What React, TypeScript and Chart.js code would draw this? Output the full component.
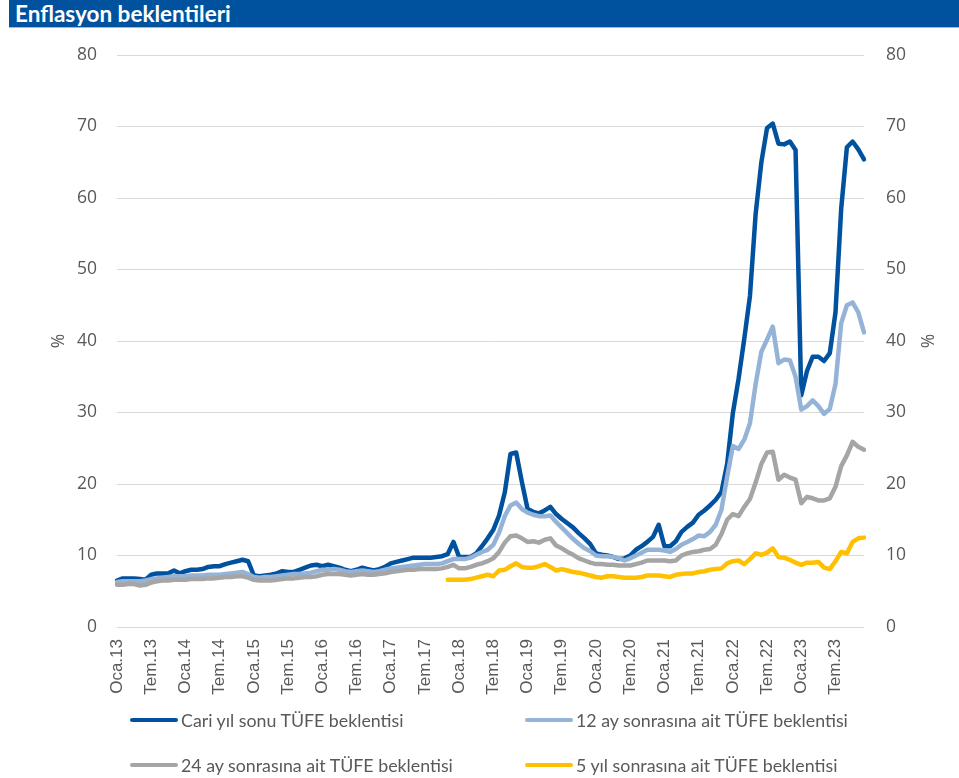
import React, { useEffect, useRef } from "react";
import { Chart, registerables } from "chart.js";

Chart.register(...registerables);

const monthNames = ["Oca", "Şub", "Mar", "Nis", "May", "Haz", "Tem", "Ağu", "Eyl", "Eki", "Kas", "Ara"];
const years = ["13", "14", "15", "16", "17", "18", "19", "20", "21", "22", "23"];
const categories = years.flatMap((y) => monthNames.map((m) => `${m}.${y}`));

const tickLabels = [
  "Oca.13", "Tem.13", "Oca.14", "Tem.14", "Oca.15", "Tem.15", "Oca.16", "Tem.16",
  "Oca.17", "Tem.17", "Oca.18", "Tem.18", "Oca.19", "Tem.19", "Oca.20", "Tem.20",
  "Oca.21", "Tem.21", "Oca.22", "Tem.22", "Oca.23", "Tem.23",
];

const cariYil = [
  6.5, 6.8, 6.8, 6.8, 6.7, 6.6, 7.3, 7.5, 7.5, 7.5, 7.9, 7.5,
  7.8, 8.0, 8.0, 8.1, 8.4, 8.5, 8.5, 8.8, 9.0, 9.2, 9.4, 9.2,
  7.2, 7.1, 7.2, 7.3, 7.5, 7.8, 7.7, 7.7, 8.0, 8.3, 8.6, 8.7,
  8.5, 8.7, 8.5, 8.3, 8.0, 7.8, 8.0, 8.3, 8.1, 7.9, 8.1, 8.4,
  8.9, 9.1, 9.3, 9.5, 9.7, 9.7, 9.7, 9.7, 9.8, 9.9, 10.2, 11.9,
  9.8, 9.8, 9.8, 10.3, 11.3, 12.4, 13.6, 15.6, 18.8, 24.2, 24.4, 20.3,
  16.5, 16.1, 15.9, 16.3, 16.8, 15.8, 15.1, 14.5, 13.9, 13.1, 12.4, 11.6,
  10.3, 10.1, 10.0, 9.8, 9.5, 9.6, 10.0, 10.8, 11.3, 11.9, 12.6, 14.3,
  11.3, 11.3, 12.0, 13.3, 14.0, 14.6, 15.7, 16.3, 17.0, 17.8, 18.9, 22.8,
  29.9, 34.7, 40.3, 46.3, 57.8, 65.0, 69.8, 70.4, 67.6, 67.5, 67.9, 66.7,
  32.4, 35.8, 37.8, 37.8, 37.2, 38.3, 44.0, 58.5, 67.1, 67.9, 66.8, 65.4,
];

const ay12 = [
  6.3, 6.4, 6.4, 6.4, 6.4, 6.5, 6.7, 6.8, 6.9, 7.0, 7.1, 7.1,
  7.1, 7.2, 7.2, 7.2, 7.3, 7.3, 7.3, 7.4, 7.5, 7.6, 7.7, 7.4,
  7.0, 6.9, 7.0, 7.0, 7.1, 7.2, 7.3, 7.4, 7.4, 7.5, 7.6, 7.8,
  8.0, 8.0, 8.1, 8.0, 7.8, 7.7, 7.8, 7.9, 7.8, 7.7, 7.8, 8.0,
  8.2, 8.3, 8.4, 8.5, 8.6, 8.7, 8.8, 8.8, 8.8, 8.9, 9.2, 9.5,
  9.5, 9.5, 9.7, 10.1, 10.5, 10.8, 11.5, 13.2, 15.5, 17.0, 17.4, 16.5,
  16.0, 15.7, 15.5, 15.5, 15.6, 14.7, 13.9, 13.1, 12.3, 11.6, 11.0, 10.6,
  10.0, 9.9, 9.9, 9.8, 9.6, 9.3, 9.6, 10.0, 10.4, 10.8, 10.8, 10.8,
  10.7, 10.5, 10.9, 11.5, 11.9, 12.3, 12.8, 12.7, 13.3, 14.3, 16.4, 21.0,
  25.3, 24.9, 26.2, 28.5, 34.0, 38.5, 40.2, 42.0, 36.9, 37.4, 37.3, 35.0,
  30.4, 30.9, 31.7, 30.9, 29.8, 30.5, 34.0, 42.5, 45.0, 45.4, 44.0, 41.2,
];

const ay24 = [
  5.9, 5.9, 6.0, 6.0, 5.8, 5.9, 6.2, 6.4, 6.5, 6.5, 6.6, 6.6,
  6.6, 6.7, 6.7, 6.7, 6.8, 6.8, 6.9, 7.0, 7.0, 7.1, 7.1, 6.9,
  6.6, 6.5, 6.5, 6.5, 6.6, 6.7, 6.8, 6.8, 6.9, 7.0, 7.0, 7.1,
  7.3, 7.4, 7.4, 7.4, 7.3, 7.2, 7.3, 7.4, 7.3, 7.3, 7.4, 7.5,
  7.7, 7.8, 7.9, 8.0, 8.0, 8.1, 8.1, 8.1, 8.1, 8.2, 8.4, 8.7,
  8.2, 8.2, 8.4, 8.7, 8.9, 9.2, 9.6, 10.5, 11.8, 12.7, 12.8, 12.4,
  11.9, 12.0, 11.8, 12.2, 12.4, 11.4, 11.0, 10.5, 10.1, 9.6, 9.3, 9.0,
  8.8, 8.8, 8.7, 8.7, 8.6, 8.6, 8.6, 8.8, 9.0, 9.3, 9.3, 9.3,
  9.3, 9.2, 9.3, 10.0, 10.3, 10.5, 10.6, 10.8, 10.9, 11.5, 13.0, 15.0,
  15.8, 15.5, 16.8, 17.9, 20.2, 22.8, 24.4, 24.5, 20.6, 21.3, 20.9, 20.6,
  17.3, 18.2, 18.0, 17.7, 17.7, 18.0, 19.6, 22.5, 24.0, 25.9, 25.2, 24.8,
];

const yil5 = [
  null, null, null, null, null, null, null, null, null, null, null, null,
  null, null, null, null, null, null, null, null, null, null, null, null,
  null, null, null, null, null, null, null, null, null, null, null, null,
  null, null, null, null, null, null, null, null, null, null, null, null,
  null, null, null, null, null, null, null, null, null, null, 6.6, 6.6,
  6.6, 6.6, 6.7, 6.9, 7.1, 7.3, 7.1, 7.9, 8.0, 8.5, 8.9, 8.4,
  8.3, 8.3, 8.5, 8.8, 8.4, 7.9, 8.1, 7.9, 7.7, 7.6, 7.4, 7.2,
  7.0, 6.9, 7.1, 7.1, 7.0, 6.9, 6.9, 6.9, 7.0, 7.2, 7.2, 7.2,
  7.1, 7.0, 7.3, 7.4, 7.5, 7.5, 7.7, 7.8, 8.0, 8.1, 8.2, 8.9,
  9.2, 9.3, 8.8, 9.5, 10.3, 10.1, 10.4, 11.0, 9.8, 9.7, 9.4, 9.0,
  8.7, 9.0, 9.0, 9.1, 8.3, 8.1, 9.2, 10.5, 10.3, 11.9, 12.4, 12.5,
];

const seriesNames = [
  "Cari yıl sonu TÜFE beklentisi",
  "12 ay sonrasına ait TÜFE beklentisi",
  "24 ay sonrasına ait TÜFE beklentisi",
  "5 yıl sonrasına ait TÜFE beklentisi",
];
const seriesColors = ["#00529F", "#95B3D7", "#A5A5A5", "#FFC000"];

const W = 959;
const H = 778;
const AREA_LEFT = 117;
const AREA_RIGHT = 864;
const AREA_TOP = 55;
const AREA_BOTTOM = 627;

const tickColor = "#595959";
const yFont = { family: "'Open Sans', sans-serif", size: 17.5 };

export default function App() {
  const canvasRef = useRef<HTMLCanvasElement | null>(null);

  useEffect(() => {
    const canvas = canvasRef.current;
    if (!canvas) return;
    const values = [cariYil, ay12, ay24, yil5];
    const chart = new Chart(canvas, {
      type: "line",
      data: {
        labels: categories,
        datasets: values.map((v, k) => ({
          label: seriesNames[k],
          data: v,
          borderColor: seriesColors[k],
          backgroundColor: seriesColors[k],
          borderWidth: 4.5,
          pointRadius: 0,
          pointHoverRadius: 0,
          tension: 0,
          fill: false,
          spanGaps: false,
          borderJoinStyle: "round" as const,
          borderCapStyle: "round" as const,
          yAxisID: "y",
          order: 4 - k,
        })),
      },
      options: {
        responsive: false,
        animation: false,
        maintainAspectRatio: false,
        layout: { padding: { top: AREA_TOP, left: 0, right: 0, bottom: 0 } },
        plugins: {
          legend: { display: false },
          tooltip: { enabled: false },
          title: { display: false },
        },
        scales: {
          x: {
            type: "category",
            offset: false,
            grid: { display: false, drawTicks: false },
            border: { display: false },
            ticks: {
              autoSkip: false,
              maxRotation: 90,
              minRotation: 90,
              padding: 12,
              color: tickColor,
              font: { family: "'Liberation Sans', Arial, sans-serif", size: 17 },
              callback: (_v: any, index: number) => {
                const l = categories[index];
                return tickLabels.includes(l) ? l : null;
              },
            },
            afterFit: (scale: any) => {
              scale.height = H - AREA_BOTTOM;
            },
          },
          y: {
            position: "left",
            min: 0,
            max: 80,
            grid: { color: "#D9D9D9", lineWidth: 1, drawTicks: false },
            border: { display: false },
            ticks: { stepSize: 10, padding: 20, color: tickColor, font: yFont },
            title: {
              display: true,
              text: "%",
              color: tickColor,
              font: yFont,
              padding: { top: 49, bottom: 0 },
            },
            afterFit: (scale: any) => {
              scale.width = AREA_LEFT;
            },
          },
          y2: {
            position: "right",
            min: 0,
            max: 80,
            display: true,
            grid: { display: false, drawTicks: false },
            border: { display: false },
            ticks: { stepSize: 10, padding: 22, color: tickColor, font: yFont },
            title: {
              display: true,
              text: "%",
              color: tickColor,
              font: yFont,
              padding: { top: 23, bottom: 0 },
            },
            afterFit: (scale: any) => {
              scale.width = W - AREA_RIGHT;
            },
          },
        },
      },
    });
    return () => chart.destroy();
  }, []);

  const legendFont = "Lato, 'Noto Sans', sans-serif";
  const legendPos = [
    { x: 130, y: 720 },
    { x: 525, y: 720 },
    { x: 130, y: 765 },
    { x: 525, y: 765 },
  ];

  return (
    <div style={{ position: "fixed", left: 0, top: 0, width: W, height: H, background: "#fff", overflow: "hidden" }}>
      <canvas ref={canvasRef} width={W} height={H} style={{ position: "absolute", left: 0, top: 0, width: W, height: H }} />
      <div
        style={{
          position: "absolute",
          left: 9,
          top: 0,
          width: W - 9,
          height: 28,
          background: "#00529F",
          borderBottom: "1px solid #9DB9DA",
          color: "#fff",
          fontFamily: legendFont,
          fontWeight: 700,
          fontSize: 22.5,
          lineHeight: "28px",
          paddingLeft: 6,
          boxSizing: "border-box",
          whiteSpace: "nowrap",
        }}
      >
        Enflasyon beklentileri
      </div>
      {seriesNames.map((name, k) => (
        <div
          key={name}
          style={{
            position: "absolute",
            left: legendPos[k].x,
            top: legendPos[k].y - 12,
            height: 24,
            display: "flex",
            alignItems: "center",
            whiteSpace: "nowrap",
          }}
        >
          <div style={{ width: 48, height: 4.5, borderRadius: 3, background: seriesColors[k], marginRight: 3 }} />
          <span style={{ fontFamily: legendFont, fontSize: 17.8, color: tickColor }}>{name}</span>
        </div>
      ))}
    </div>
  );
}
